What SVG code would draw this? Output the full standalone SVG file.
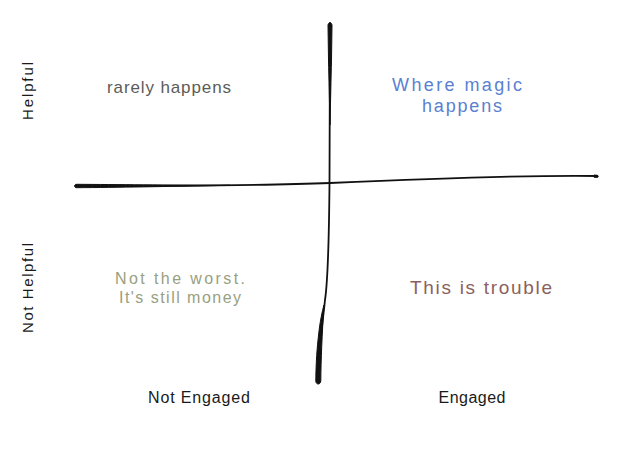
<svg xmlns="http://www.w3.org/2000/svg" width="620" height="451" viewBox="0 0 620 451">
<style>
text{font-family:"Liberation Sans","DejaVu Sans",sans-serif;}
.ax{fill:none;stroke:#111;stroke-linecap:round;}
.tp{fill:#111;stroke:#111;stroke-width:1;stroke-linejoin:round;}
.lbl{font-size:15px;fill:#1a1a1a;}
.q{font-size:18px;text-anchor:middle;}
</style>
<rect width="620" height="451" fill="#fff"/>
<g id="connectors">
<path class="ax" d="M76,186 C200,186 280,185 330,183 C420,179 520,175 597,176" stroke-width="1.8"/>
<path class="tp" d="M76,184.3 C120,184.6 160,185 230,185.3 C160,186.6 120,187.4 76,187.7 C74,187 74,185 76,184.3 Z"/>
<path class="tp" d="M594,175 L597.5,175.3 C598.5,176 598.5,177 597.5,177.4 L594,177.2 Z"/>
<path class="ax" d="M330,23 C330,120 330,160 329.5,183 C329,240 328,280 325,300 C322,330 318,350 318,382" stroke-width="1.8"/>
<path class="tp" d="M328,25 C328.5,22 331.5,22 332,25 L331.5,60 C331,80 330.6,100 330,125 C329.4,100 329,80 328.5,60 Z"/>
<path class="tp" d="M324,305 C322,335 321,360 320.8,381 C320.5,385 316,385 315.8,381 C316,362 317,348 318.8,333 C320,322 322,312 324,305 Z"/>
</g>
<g id="helpful"><text class="lbl" transform="translate(33,91) rotate(-90)" text-anchor="middle" textLength="58" lengthAdjust="spacing">Helpful</text></g>
<g id="not-helpful"><text class="lbl" transform="translate(33,288) rotate(-90)" text-anchor="middle" textLength="90" lengthAdjust="spacing">Not Helpful</text></g>
<g id="rarely"><text x="169" y="93" class="q" style="font-size:17px" fill="#5c5c58" textLength="124" lengthAdjust="spacing">rarely happens</text></g>
<g id="magic"><text x="457" y="91" class="q" style="font-size:18px" fill="#5b80d1" textLength="130" lengthAdjust="spacing">Where magic</text><text x="462" y="112" class="q" style="font-size:18px" fill="#5b80d1" textLength="80" lengthAdjust="spacing">happens</text></g>
<g id="worst"><text x="180" y="284" class="q" style="font-size:16px" fill="#98a07f" textLength="130" lengthAdjust="spacing">Not the worst.</text><text x="180" y="303" class="q" style="font-size:16px" fill="#98a07f" textLength="122" lengthAdjust="spacing">It's still money</text></g>
<g id="trouble"><text x="481" y="294" class="q" style="font-size:19px" fill="#8b615d" textLength="142" lengthAdjust="spacing">This is trouble</text></g>
<g id="not-engaged"><text x="199" y="403" class="lbl" style="font-size:16px" text-anchor="middle" textLength="102" lengthAdjust="spacing">Not Engaged</text></g>
<g id="engaged"><text x="472" y="403" class="lbl" style="font-size:16px" text-anchor="middle" textLength="67" lengthAdjust="spacing">Engaged</text></g>
</svg>
